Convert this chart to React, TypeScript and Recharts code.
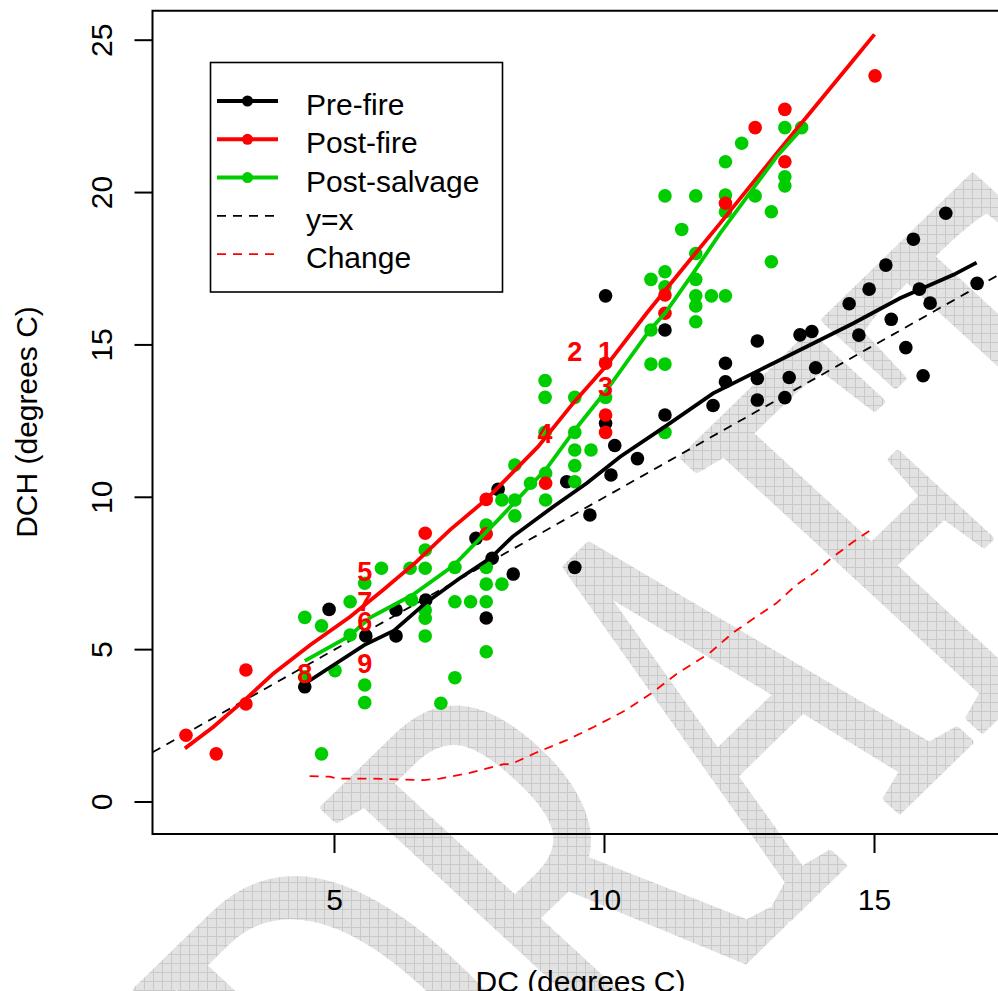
import React from 'react';
import { ScatterChart, Scatter, XAxis, YAxis, ReferenceLine, ReferenceArea } from 'recharts';

// DC vs DCH, one point per plot, per period
const preFire: [number, number][] = [
  [4.45, 3.78], [4.90, 6.32], [5.58, 5.45], [6.14, 6.30], [6.14, 5.45], [6.69, 6.63],
  [7.62, 8.65], [7.81, 6.04], [7.92, 8.00], [8.03, 10.26], [8.31, 7.48], [9.30, 10.51],
  [9.45, 7.70], [9.73, 9.42], [10.02, 16.61], [10.02, 12.43], [10.12, 10.73], [10.19, 11.70],
  [10.61, 11.27], [11.12, 15.49], [11.12, 12.70], [12.01, 13.01], [12.24, 14.40], [12.24, 13.79],
  [12.83, 15.13], [12.83, 13.90], [12.83, 13.19], [13.34, 13.27], [13.42, 13.93], [13.62, 15.33],
  [13.84, 15.44], [13.91, 14.25], [14.53, 16.35], [14.71, 15.32], [14.90, 16.83], [15.21, 17.62],
  [15.31, 15.84], [15.58, 14.91], [15.72, 18.47], [15.83, 16.83], [15.90, 13.99], [16.03, 16.37],
  [16.32, 19.32], [16.90, 17.02],
];

const postFire: [number, number][] = [
  [2.25, 2.19], [2.81, 1.58], [3.36, 4.33], [3.36, 3.22], [6.68, 8.82], [7.81, 9.93],
  [7.81, 8.80], [8.91, 10.46], [10.02, 14.40], [10.02, 12.70], [10.02, 12.13], [11.12, 16.64],
  [11.12, 16.04], [12.24, 19.65], [12.79, 22.13], [13.34, 22.73], [13.34, 21.01], [15.01, 23.83],
];

const postSalvage: [number, number][] = [
  [4.45, 6.06], [4.45, 4.11], [4.76, 5.78], [4.76, 1.58], [5.01, 4.31], [5.29, 6.57],
  [5.29, 5.48], [5.56, 7.18], [5.56, 3.84], [5.56, 3.26], [5.87, 7.67], [6.40, 7.67],
  [6.43, 6.63], [6.68, 8.27], [6.68, 7.67], [6.68, 6.30], [6.68, 6.03], [6.68, 5.45],
  [6.97, 3.24], [7.23, 7.70], [7.23, 6.57], [7.23, 4.08], [7.52, 6.57], [7.81, 9.09],
  [7.81, 7.70], [7.81, 7.15], [7.81, 6.57], [7.81, 4.93], [8.10, 9.91], [8.10, 7.15],
  [8.34, 11.06], [8.34, 9.91], [8.34, 9.39], [8.63, 10.46], [8.91, 10.79], [8.91, 9.91],
  [8.90, 13.83], [8.90, 13.28], [8.90, 12.13], [9.45, 13.28], [9.45, 12.13], [9.45, 11.55],
  [9.45, 11.04], [9.45, 10.51], [9.75, 11.55], [10.02, 13.28], [10.86, 17.15], [10.86, 15.49],
  [10.86, 14.37], [11.12, 17.40], [11.12, 16.91], [11.12, 19.89], [11.12, 14.37], [11.12, 12.13],
  [11.43, 18.79], [11.69, 19.89], [11.69, 18.00], [11.69, 17.15], [11.69, 16.61], [11.69, 16.28],
  [11.69, 15.76], [11.98, 16.61], [12.24, 21.01], [12.24, 19.92], [12.24, 19.37], [12.24, 16.61],
  [12.54, 21.62], [12.79, 19.89], [13.09, 19.37], [13.09, 17.73], [13.34, 22.13], [13.34, 20.52],
  [13.34, 20.22], [13.65, 22.13],
];

// smoothed curves
const preFireFit: [number, number][] = [
  [4.45, 3.88], [5.55, 5.15], [6.1, 5.62], [6.7, 6.55], [7.3, 7.32], [7.9, 8.02], [8.3, 8.71],
  [9.05, 9.69], [9.67, 10.46], [10.29, 11.33], [11.12, 12.32], [12.01, 13.41], [12.88, 14.18],
  [13.74, 14.94], [14.61, 15.71], [15.47, 16.53], [16.46, 17.3], [16.89, 17.7],
];

const postFireFit: [number, number][] = [
  [2.23, 1.76], [2.76, 2.47], [3.37, 3.4], [3.87, 4.22], [4.55, 5.15], [5.29, 6.08], [5.9, 6.96],
  [6.52, 7.89], [7.14, 8.93], [7.81, 9.93], [8.77, 11.66], [9.42, 13.09], [10.02, 14.29],
  [10.78, 16.04], [11.43, 17.46], [12.14, 18.99], [13.19, 21.29], [14.61, 24.35], [15.0, 25.19],
];

const postSalvageFit: [number, number][] = [
  [4.45, 4.63], [5.28, 5.45], [5.66, 6.05], [6.45, 6.8], [7.2, 7.75], [8.03, 9.26], [8.93, 10.95],
  [9.45, 12.21], [10.02, 13.47], [10.84, 15.49], [11.12, 16.04], [11.64, 17.35], [12.14, 18.66],
  [13.19, 21.18], [13.74, 22.27],
];

const changeFit: [number, number][] = [
  [4.54, 0.85], [4.91, 0.83], [5.05, 0.77], [5.64, 0.77], [6.66, 0.72], [6.95, 0.77], [7.47, 0.94],
  [8.13, 1.24], [8.27, 1.24], [8.71, 1.6], [9.3, 2.03], [9.81, 2.47], [10.4, 3.02], [10.91, 3.62],
  [11.35, 4.22], [11.94, 4.88], [12.37, 5.54], [12.81, 6.08], [13.18, 6.52], [13.55, 7.12],
  [13.91, 7.56], [14.2, 8.0], [14.57, 8.49], [14.97, 8.98],
];

const siteLabels: [number, number, string][] = [
  [10.02, 14.78, '1'], [9.45, 14.78, '2'], [10.02, 13.63, '3'], [8.9, 12.1, '4'], [5.56, 7.56, '5'],
  [5.56, 5.92, '6'], [5.56, 6.57, '7'], [4.45, 4.23, '8'], [5.56, 4.56, '9'],
];

const xTicks = [5, 10, 15];
const yTicks = [0, 5, 10, 15, 20, 25];

const X_LO = 1.63;
const X_HI = 17.472;
const Y_LO = -1.05;
const Y_HI = 25.968;

const FONT = 'Liberation Sans, Arial, Helvetica, sans-serif';
const RED = '#ff0000';
const GREEN = '#00cd00';

const toXY = (arr: [number, number][]) => arr.map(([x, y]) => ({ x, y }));

const dot = (color: string) => (p: any) => <circle cx={p.cx} cy={p.cy} r={6.8} fill={color} />;
const noDot = () => <g />;

const YTick = (props: any) => {
  const { x, y, payload } = props;
  return (
    <text x={x} y={y} transform={`rotate(-90 ${x} ${y})`} textAnchor="middle" fontSize={30} fontFamily={FONT} fill="#000">
      {payload.value}
    </text>
  );
};

const LabelShape = (p: any) => (
  <text x={p.cx} y={p.cy} dy={9.5} textAnchor="middle" fontSize={27} fontWeight="bold" fontFamily={FONT} fill={RED}>
    {p.payload.label}
  </text>
);

const legendRows = [
  { name: 'Pre-fire', color: '#000', dashed: false },
  { name: 'Post-fire', color: RED, dashed: false },
  { name: 'Post-salvage', color: GREEN, dashed: false },
  { name: 'y=x', color: '#000', dashed: true },
  { name: 'Change', color: RED, dashed: true },
];

const LegendBox = () => (
  <svg width={998} height={991} style={{ position: 'absolute', left: 0, top: 0, pointerEvents: 'none' }}>
    <rect x={210.5} y={62.5} width={292} height={229.5} fill="#fff" stroke="#000" strokeWidth={1.6} />
    {legendRows.map((r, i) => {
      const y = 101 + i * 38.3;
      return (
        <g key={r.name}>
          {r.dashed ? (
            <line x1={217} x2={278} y1={y} y2={y} stroke={r.color} strokeWidth={1.8} strokeDasharray="9 7" />
          ) : (
            <g>
              <line x1={217} x2={278} y1={y} y2={y} stroke={r.color} strokeWidth={4} />
              <circle cx={247.5} cy={y} r={5.5} fill={r.color} />
            </g>
          )}
          <text x={306} y={y + 14} fontSize={30} fontFamily={FONT} fill="#000">{r.name}</text>
        </g>
      );
    })}
  </svg>
);

// condensed, rotated "DRAFT" stamp behind the plot
const WM_T = 'matrix(2.59 -2.52 4.516 4.168 425 1271)';

const Watermark = () => (
  <svg width={998} height={991} style={{ position: 'absolute', left: 0, top: 0 }}>
    <defs>
      <pattern id="wmgrid" width={9} height={9} patternUnits="userSpaceOnUse">
        <rect width={9} height={9} fill="#e2e2e2" />
        <path d="M0 0.5 H9 M0.5 0 V9" stroke="#c9c9c9" strokeWidth={1} />
      </pattern>
      <mask id="wmmask" maskUnits="userSpaceOnUse" x={0} y={0} width={998} height={991}>
        <text x={0} y={0} fontSize={100} fontFamily="Liberation Serif, Times New Roman, serif"
          fill="#fff" stroke="#fff" strokeWidth={1.4} strokeLinejoin="round" transform={WM_T}>
          DRAFT
        </text>
      </mask>
    </defs>
    <rect x={0} y={0} width={998} height={991} fill="url(#wmgrid)" mask="url(#wmmask)" />
  </svg>
);

export default function App() {
  return (
    <div style={{ position: 'absolute', left: 0, top: 0, width: 998, height: 991, overflow: 'hidden', background: '#fff' }}>
      <Watermark />
      <div style={{ position: 'absolute', left: 0, top: 0 }}>
        <ScatterChart width={1012} height={991} margin={{ top: 10.7, right: 4, bottom: 0, left: 0 }}>
          <XAxis
            type="number" dataKey="x" domain={[X_LO, X_HI]} ticks={xTicks} allowDataOverflow
            height={157} tickSize={19} tickMargin={36} axisLine={false}
            tickLine={{ stroke: '#000', strokeWidth: 2 }}
            tick={{ fill: '#000', fontSize: 30, fontFamily: FONT }}
            label={() => (
              <text x={580.5} y={992} textAnchor="middle" fontSize={30} fontFamily={FONT} fill="#000">DC (degrees C)</text>
            )}
          />
          <YAxis
            type="number" dataKey="y" domain={[Y_LO, Y_HI]} ticks={yTicks} allowDataOverflow
            width={152.5} tickSize={18} tickMargin={22.5} axisLine={false}
            tickLine={{ stroke: '#000', strokeWidth: 2 }}
            tick={<YTick />}
            label={() => (
              <text x={37} y={422} transform="rotate(-90 37 422)" textAnchor="middle" fontSize={30} fontFamily={FONT} fill="#000">
                DCH (degrees C)
              </text>
            )}
          />
          <ReferenceArea x1={X_LO} x2={X_HI} y1={Y_LO} y2={Y_HI} fill="none" stroke="#000" strokeWidth={2} ifOverflow="visible" />
          <ReferenceLine
            segment={[{ x: X_LO, y: X_LO }, { x: X_HI, y: X_HI }]}
            stroke="#000" strokeWidth={1.8} strokeDasharray="9 7" ifOverflow="hidden"
          />
          <Scatter data={toXY(changeFit)} line={{ stroke: RED, strokeWidth: 1.8, strokeDasharray: '9 7' }} lineType="joint" shape={noDot} isAnimationActive={false} />
          <Scatter data={toXY(preFire)} shape={dot('#000')} isAnimationActive={false} />
          <Scatter data={toXY(postSalvage)} shape={dot(GREEN)} isAnimationActive={false} />
          <Scatter data={toXY(postFire)} shape={dot(RED)} isAnimationActive={false} />
          <Scatter data={toXY(preFireFit)} line={{ stroke: '#000', strokeWidth: 3.8 }} lineType="joint" shape={noDot} isAnimationActive={false} />
          <Scatter data={toXY(postFireFit)} line={{ stroke: RED, strokeWidth: 3.8 }} lineType="joint" shape={noDot} isAnimationActive={false} />
          <Scatter data={toXY(postSalvageFit)} line={{ stroke: GREEN, strokeWidth: 3.8 }} lineType="joint" shape={noDot} isAnimationActive={false} />
          <Scatter data={siteLabels.map(([x, y, label]) => ({ x, y, label }))} shape={LabelShape} isAnimationActive={false} />
        </ScatterChart>
      </div>
      <LegendBox />
    </div>
  );
}
